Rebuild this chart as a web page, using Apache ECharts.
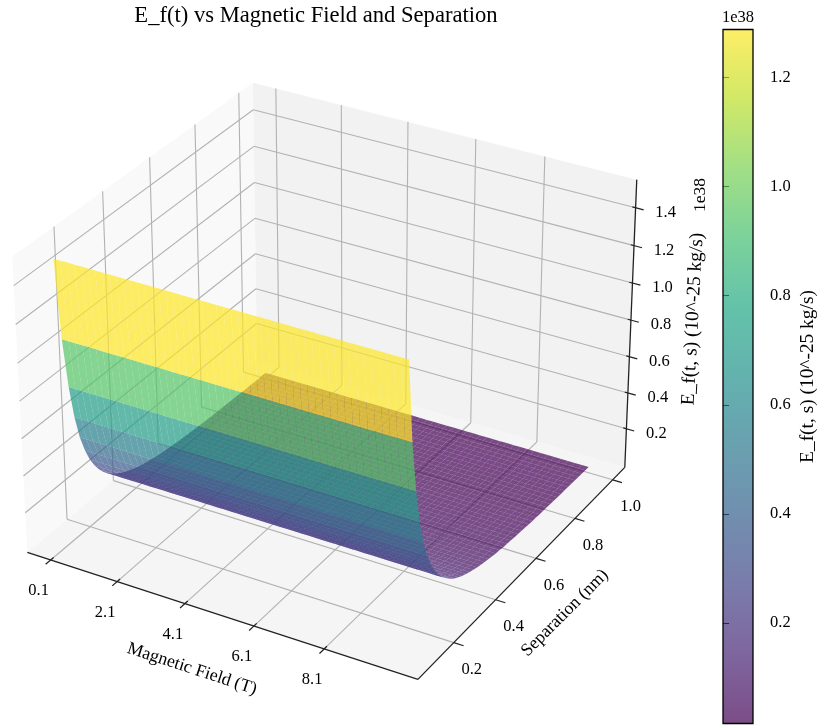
<!DOCTYPE html>
<html>
<head>
<meta charset="utf-8">
<style>html,body{margin:0;padding:0;background:#fff}#c{width:818px;height:728px}</style>
<script src="https://cdn.jsdelivr.net/npm/echarts@6/dist/echarts.min.js"></script>
</head>
<body>
<div id="c"></div>
<script>
// ---------- data ----------
const magneticField = [0.10,0.30,0.50,0.71,0.91,1.11,1.31,1.51,1.72,1.92,2.12,2.32,2.52,2.73,2.93,3.13,3.33,3.53,3.74,3.94,4.14,4.34,4.54,4.75,4.95,5.15,5.35,5.55,5.76,5.96,6.16,6.36,6.56,6.77,6.97,7.17,7.37,7.57,7.78,7.98,8.18,8.38,8.58,8.79,8.99,9.19,9.39,9.59,9.80,10.00];
const separation = [0.100,0.118,0.137,0.155,0.173,0.192,0.210,0.229,0.247,0.265,0.284,0.302,0.320,0.339,0.357,0.376,0.394,0.412,0.431,0.449,0.467,0.486,0.504,0.522,0.541,0.559,0.578,0.596,0.614,0.633,0.651,0.669,0.688,0.706,0.724,0.743,0.761,0.780,0.798,0.816,0.835,0.853,0.871,0.890,0.908,0.927,0.945,0.963,0.982,1.000];
const energyBySeparation = [1.510,1.078,0.808,0.628,0.502,0.410,0.342,0.289,0.248,0.215,0.188,0.166,0.147,0.132,0.118,0.107,0.097,0.089,0.081,0.075,0.069,0.064,0.059,0.055,0.052,0.048,0.045,0.043,0.040,0.038,0.036,0.034,0.032,0.030,0.029,0.027,0.026,0.025,0.024,0.023,0.022,0.021,0.020,0.019,0.018,0.018,0.017,0.016,0.016,0.015];
const xTicks = [0.1,2.1,4.1,6.1,8.1];
const yTicks = [0.2,0.4,0.6,0.8,1.0];
const zTicks = [0.2,0.4,0.6,0.8,1.0,1.2,1.4];
const colorbarTicks = [0.2,0.4,0.6,0.8,1.0,1.2];
const xLim = [-0.609,10.71];
const yLim = [0.034,1.066];
const zLim = [-0.018,1.547];
const colorRange = [0.0156,1.288];

// ---------- view: box corners on the page (unit cube -> pixels) ----------
const boxCorners = [
  [0,0,0, 26.5,551.5],[1,0,0, 418,680],[1,1,0, 624.5,466.5],[0,1,0, 258,362],
  [0,0,1, 13,257],[1,1,1, 637,180],[0,1,1, 252,82]
];
function fitCamera(pts){
  const A=[],b=[],S=800;
  pts.forEach(p=>{
    const [u,v,w,px,py]=p, X=px/S, Y=py/S;
    A.push([u,v,w,1,0,0,0,0,-X*u,-X*v,-X*w]); b.push(X);
    A.push([0,0,0,0,u,v,w,1,-Y*u,-Y*v,-Y*w]); b.push(Y);
  });
  const n=11, M=[];
  for(let r=0;r<n;r++){
    M.push([]);
    for(let c=0;c<n;c++){let s=0;A.forEach(a=>s+=a[r]*a[c]);M[r].push(s);}
    let s=0;A.forEach((a,k)=>s+=a[r]*b[k]);M[r].push(s);
  }
  for(let i=0;i<n;i++){
    let m=i;for(let r=i+1;r<n;r++)if(Math.abs(M[r][i])>Math.abs(M[m][i]))m=r;
    [M[i],M[m]]=[M[m],M[i]];
    for(let r=0;r<n;r++){if(r===i)continue;const f=M[r][i]/M[i][i];for(let c=i;c<=n;c++)M[r][c]-=f*M[i][c];}
  }
  const h=M.map((row,i)=>row[n]/row[i]);
  return (u,v,w)=>{
    const d=h[8]*u+h[9]*v+h[10]*w+1;
    return [S*(h[0]*u+h[1]*v+h[2]*w+h[3])/d, S*(h[4]*u+h[5]*v+h[6]*w+h[7])/d];
  };
}
const cam = fitCamera(boxCorners);
const U=x=>(x-xLim[0])/(xLim[1]-xLim[0]), V=y=>(y-yLim[0])/(yLim[1]-yLim[0]), W=z=>(z-zLim[0])/(zLim[1]-zLim[0]);

// ---------- colour ----------
const viridis=[[68,1,84],[72,36,117],[65,68,135],[53,95,141],[42,120,142],[33,145,140],[34,168,132],[68,191,112],[122,209,81],[189,223,38],[253,231,37]];
const ALPHA=0.7;
function cmap(t){
  t=Math.max(0,Math.min(1,t))*(viridis.length-1);
  const i=Math.min(Math.floor(t),viridis.length-2),f=t-i,a=viridis[i],b=viridis[i+1];
  return `rgba(${a.map((c,k)=>Math.round(c+(b[k]-c)*f)).join(',')},${ALPHA})`;
}

// ---------- helpers ----------
const SERIF='"Liberation Serif","Times New Roman",serif';
const GRID='#b2b2b2', DARK='#222';
const TICK_FONT=16.5, NAME_FONT=17.8, TALL_FONT=19.4;
const line=(api,a,b,color,width)=>{
  const p=api.coord(cam(...a)),q=api.coord(cam(...b));
  return {type:'line',shape:{x1:p[0],y1:p[1],x2:q[0],y2:q[1]},style:{stroke:color,lineWidth:width,fill:null}};
};
const label=(api,a,dx,dy,t)=>{
  const p=api.coord(cam(...a));
  return {type:'text',x:p[0]+dx,y:p[1]+dy,style:{text:t,fill:'#000',font:`${TICK_FONT}px ${SERIF}`,textAlign:'center',textVerticalAlign:'middle'}};
};
const note=(x,y,deg,text,size)=>({type:'text',x,y,rotation:deg*Math.PI/180,silent:true,
  style:{text,fill:'#000',font:`${size}px ${SERIF}`,textAlign:'center',textVerticalAlign:'middle'}});
const base={type:'custom',coordinateSystem:'cartesian2d',xAxisIndex:0,yAxisIndex:0,clip:false,silent:true,animation:false,progressive:0};

// surface cells, far rows first so nearer rows lie on top
const cells=[];
for(let j=separation.length-2;j>=0;j--){
  for(let i=0;i<magneticField.length-1;i++){
    cells.push([i,j,(energyBySeparation[j]+energyBySeparation[j+1])/2]);
  }
}

const option={
  animation:false,
  backgroundColor:'#fff',
  title:{text:'E_f(t) vs Magnetic Field and Separation',left:311,top:0,textAlign:'center',
    textStyle:{fontFamily:SERIF,fontWeight:'normal',fontSize:22.6,color:'#000'}},
  grid:[
    {left:0,top:0,width:818,height:728,show:false},
    {left:723,top:29.5,width:34,height:694,show:false}
  ],
  xAxis:[
    {type:'value',min:0,max:818,show:false,gridIndex:0},
    {type:'value',min:0,max:1,show:false,gridIndex:1}
  ],
  yAxis:[
    {type:'value',min:0,max:728,inverse:true,show:false,gridIndex:0},
    {type:'value',gridIndex:1,min:colorRange[0],max:colorRange[1],position:'right',
      splitLine:{show:false},
      axisLine:{show:false},
      axisTick:{show:true,length:6,customValues:colorbarTicks,lineStyle:{color:'#000',width:1.1}},
      axisLabel:{show:true,margin:17,customValues:colorbarTicks,formatter:v=>v.toFixed(1),
        fontFamily:SERIF,fontSize:TICK_FONT,color:'#000'},
      name:'E_f(t, s) (10^-25 kg/s)',nameLocation:'middle',nameRotate:90,nameGap:45,
      nameTextStyle:{fontFamily:SERIF,fontSize:TALL_FONT,color:'#000'}}
  ],
  graphic:[
    note(192,669,-18,'Magnetic Field (T)',NAME_FONT),
    note(565,613,45,'Separation (nm)',NAME_FONT),
    note(693,319,87,'E_f(t, s) (10^-25 kg/s)',TALL_FONT),
    note(700,195,90,'1e38',17.5),
    note(738,18,0,'1e38',16.5)
  ],
  series:[
    // panes
    Object.assign({},base,{z:1,data:[[0,0],[1,0],[2,0]],
      renderItem(params,api){
        const k=api.value(0);
        const faces=[
          [[0,0,0],[0,1,0],[0,1,1],[0,0,1]],
          [[0,1,0],[1,1,0],[1,1,1],[0,1,1]],
          [[0,0,0],[1,0,0],[1,1,0],[0,1,0]]
        ];
        const fills=['#f9f9f9','#f2f2f2','#f5f5f5'];
        return {type:'polygon',shape:{points:faces[k].map(c=>api.coord(cam(...c)))},style:{fill:fills[k]}};
      }}),
    // x grid: floor and back wall
    Object.assign({},base,{z:2,data:xTicks.map(t=>[t,0]),
      renderItem(params,api){
        const u=U(api.value(0));
        return {type:'group',children:[
          line(api,[u,0,0],[u,1,0],GRID,1.1),
          line(api,[u,1,0],[u,1,1],GRID,1.1)]};
      }}),
    // y grid: floor and left wall
    Object.assign({},base,{z:2,data:yTicks.map(t=>[t,0]),
      renderItem(params,api){
        const v=V(api.value(0));
        return {type:'group',children:[
          line(api,[0,v,0],[1,v,0],GRID,1.1),
          line(api,[0,v,0],[0,v,1],GRID,1.1)]};
      }}),
    // z grid: left and back wall
    Object.assign({},base,{z:2,data:zTicks.map(t=>[t,0]),
      renderItem(params,api){
        const w=W(api.value(0));
        return {type:'group',children:[
          line(api,[0,0,w],[0,1,w],GRID,1.1),
          line(api,[0,1,w],[1,1,w],GRID,1.1)]};
      }}),
    // surface
    Object.assign({},base,{z:3,data:cells,
      renderItem(params,api){
        const i=api.value(0),j=api.value(1),avg=api.value(2);
        const corner=(a,b)=>api.coord(cam(U(magneticField[a]),V(separation[b]),W(energyBySeparation[b])));
        return {type:'polygon',
          shape:{points:[corner(i,j),corner(i+1,j),corner(i+1,j+1),corner(i,j+1)]},
          style:{fill:cmap((avg-colorRange[0])/(colorRange[1]-colorRange[0]))}};
      }}),
    // axis lines
    Object.assign({},base,{z:4,data:[[0,0]],
      renderItem(params,api){
        return {type:'group',children:[
          line(api,[0,0,0],[1,0,0],DARK,1.3),
          line(api,[1,0,0],[1,1,0],DARK,1.3),
          line(api,[1,1,0],[1,1,1],DARK,1.3)]};
      }}),
    // x ticks
    Object.assign({},base,{z:4,data:xTicks.map(t=>[t,0]),
      renderItem(params,api){
        const t=api.value(0),u=U(t);
        return {type:'group',children:[
          line(api,[u,-0.02,0],[u,0.012,0],DARK,1.2),
          label(api,[u,0,0],-12,31,t.toFixed(1))]};
      }}),
    // y ticks
    Object.assign({},base,{z:4,data:yTicks.map(t=>[t,0]),
      renderItem(params,api){
        const t=api.value(0),v=V(t);
        return {type:'group',children:[
          line(api,[1,v,0],[1.024,v,0],DARK,1.2),
          label(api,[1,v,0],18,27,t.toFixed(1))]};
      }}),
    // z ticks
    Object.assign({},base,{z:4,data:zTicks.map(t=>[t,0]),
      renderItem(params,api){
        const t=api.value(0),w=W(t);
        return {type:'group',children:[
          line(api,[0.992,1,w],[1.02,1,w],DARK,1.2),
          label(api,[1,1,w],30,5,t.toFixed(1))]};
      }}),
    // colour bar
    {type:'custom',coordinateSystem:'cartesian2d',xAxisIndex:1,yAxisIndex:1,z:4,silent:true,animation:false,clip:false,
      data:[[colorRange[0],colorRange[1]]],encode:{x:-1,y:[0,1]},
      renderItem(params,api){
        const p0=api.coord([0,api.value(0)]),p1=api.coord([1,api.value(1)]);
        const stops=viridis.map((c,k)=>({offset:k/(viridis.length-1),color:`rgba(${c.join(',')},${ALPHA})`}));
        return {type:'rect',shape:{x:p0[0],y:p1[1],width:p1[0]-p0[0],height:p0[1]-p1[1]},
          style:{fill:{type:'linear',x:0,y:1,x2:0,y2:0,colorStops:stops},stroke:'#000',lineWidth:1.3}};
      }}
  ]
};
const chart=echarts.init(document.getElementById('c'),null,{renderer:'canvas',width:818,height:728});
chart.setOption(option);
</script>
</body>
</html>
